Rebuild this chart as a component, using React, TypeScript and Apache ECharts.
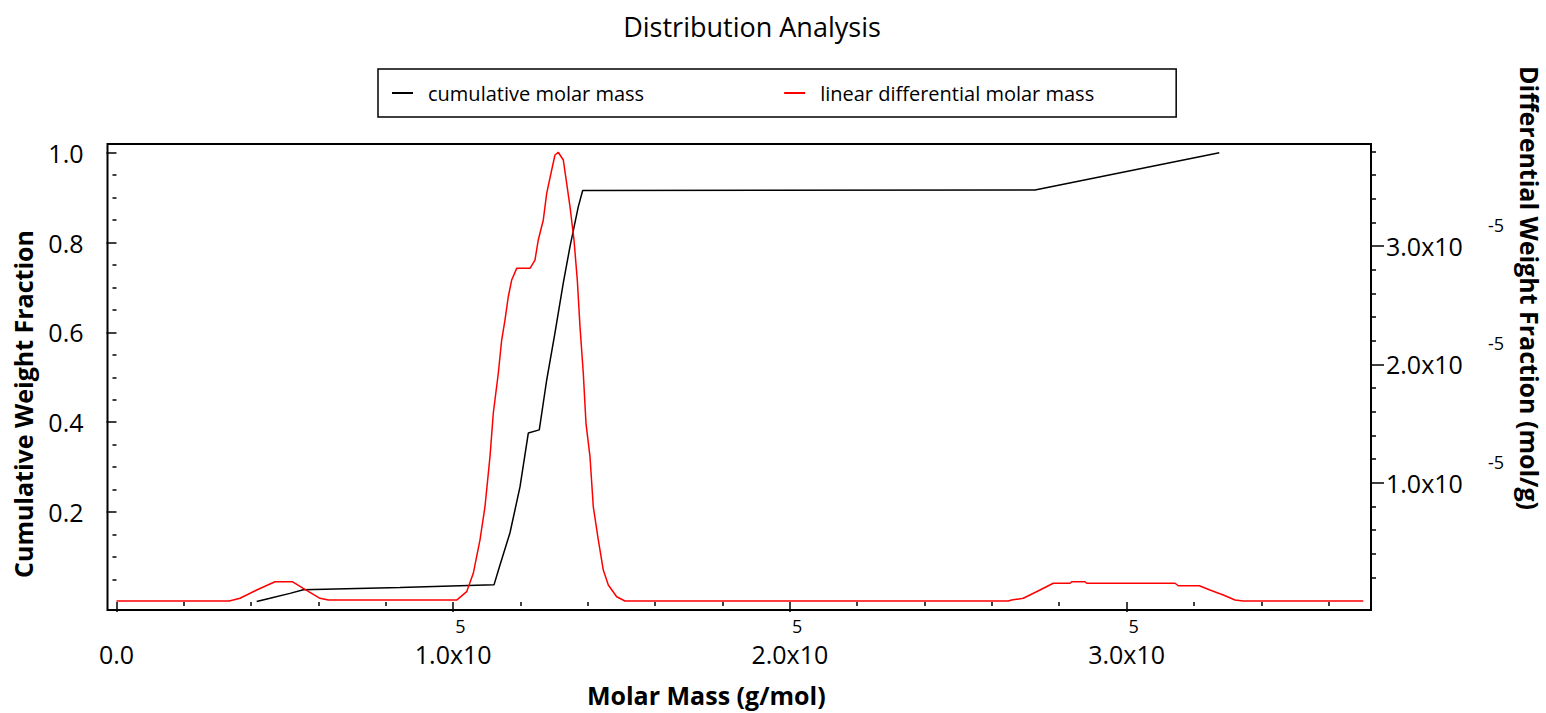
import { useEffect, useRef } from "react";
import * as echarts from "echarts";

// ---- Data ----
// Cumulative molar mass curve (left axis)
const cumMolarMass = [
  41640, 45590, 51530, 55480, 84200, 112120, 113900, 116870, 119840, 122310,
  125570, 127770, 130230, 132700, 134690, 137160, 138460, 272790, 327530,
];
const cumWeightFraction = [
  0.001, 0.008, 0.019, 0.027, 0.032, 0.038, 0.082, 0.154, 0.256, 0.376,
  0.383, 0.494, 0.599, 0.71, 0.791, 0.88, 0.916, 0.917, 1.0,
];

// Linear differential molar mass curve (right axis, mol/g)
const diffMolarMass = [
  0, 33500, 36680, 41640, 47070, 52210, 55480, 60440, 62900, 101040,
  104010, 105970, 107960, 109440, 110930, 111910, 113400, 114400, 115380, 116360,
  117370, 118860, 122810, 124290, 125270, 126760, 127770, 129250, 130230, 131210,
  132700, 133710, 134690, 135880, 136860, 137660, 138640, 139440, 140630, 141610,
  143100, 144580, 146070, 148560, 151030, 264860, 265870, 269320, 274280, 278230,
  283190, 283690, 287640, 288150, 314380, 315360, 321590, 324770, 328720, 332200,
  334660, 370300,
];
const diffWeightFraction = [
  0, 0, 0.023e-5, 0.093e-5, 0.163e-5, 0.163e-5, 0.107e-5, 0.023e-5, 0.008e-5, 0.008e-5,
  0.079e-5, 0.234e-5, 0.516e-5, 0.797e-5, 1.22e-5, 1.587e-5, 1.925e-5, 2.206e-5, 2.375e-5, 2.572e-5,
  2.713e-5, 2.812e-5, 2.812e-5, 2.882e-5, 3.052e-5, 3.221e-5, 3.446e-5, 3.643e-5, 3.77e-5, 3.793e-5,
  3.728e-5, 3.531e-5, 3.333e-5, 3.052e-5, 2.713e-5, 2.319e-5, 1.925e-5, 1.502e-5, 1.22e-5, 0.797e-5,
  0.516e-5, 0.262e-5, 0.135e-5, 0.036e-5, 0, 0, 0.008e-5, 0.023e-5, 0.093e-5, 0.15e-5,
  0.15e-5, 0.163e-5, 0.163e-5, 0.15e-5, 0.15e-5, 0.129e-5, 0.129e-5, 0.093e-5, 0.051e-5, 0.008e-5,
  0, 0,
];

// Tick values
const xMajorTicks = [0, 100000, 200000, 300000];
const xExponentTicks = [100000, 200000, 300000];
const xMinorTicks = [
  20000, 40000, 60000, 80000, 120000, 140000, 160000, 180000, 220000, 240000,
  260000, 280000, 320000, 340000, 360000,
];
const leftMajorTicks = [0.2, 0.4, 0.6, 0.8, 1.0];
const leftMinorTicks = [
  0.05, 0.1, 0.15, 0.25, 0.3, 0.35, 0.45, 0.5, 0.55, 0.65, 0.7, 0.75, 0.85, 0.9, 0.95,
];
const rightMajorTicks = [1e-5, 2e-5, 3e-5];
const rightMinorTicks = [
  0.2e-5, 0.4e-5, 0.6e-5, 0.8e-5, 1.2e-5, 1.4e-5, 1.6e-5, 1.8e-5, 2.2e-5, 2.4e-5,
  2.6e-5, 2.8e-5, 3.2e-5, 3.4e-5, 3.6e-5, 3.8e-5,
];

const X_MIN = -2670;
const X_MAX = 372590;
const L_MIN = -0.018;
const L_MAX = 1.0194;
const R_MIN = -0.076e-5;
const R_MAX = 3.863e-5;
// exponent labels of the right axis sit a little above their ticks
const R_EXP_SHIFT = 0.178e-5;

const FONT = "'Open Sans', 'Noto Sans', sans-serif";
const TICK_FS = 25;
const NAME_FS = 25;

export default function App() {
  const ref = useRef<HTMLDivElement>(null);

  useEffect(() => {
    if (!ref.current) return;
    const chart = echarts.init(ref.current, undefined, { renderer: "svg" });

    const tickLine = { color: "#000", width: 1.5 };
    const nameStyle = (padding: number[]) => ({
      fontFamily: FONT,
      fontSize: NAME_FS,
      fontWeight: "bold",
      color: "#000",
      padding,
    });

    const option: any = {
      animation: false,
      backgroundColor: "#fff",
      textStyle: { fontFamily: FONT, color: "#000" },
      title: {
        text: "Distribution Analysis",
        left: 747,
        textAlign: "center",
        top: 8,
        textStyle: { fontFamily: FONT, fontSize: 27, fontWeight: "normal", color: "#000" },
      },
      legend: {
        left: 378,
        top: 69,
        padding: [14, 82, 14, 14],
        itemGap: 140,
        itemWidth: 21,
        itemHeight: 2,
        icon: "rect",
        borderColor: "#000",
        borderWidth: 1.5,
        borderRadius: 0,
        textStyle: { fontFamily: FONT, fontSize: 20, color: "#000", padding: [0, 0, 0, 10] },
        data: ["cumulative molar mass", "linear differential molar mass"],
      },
      grid: {
        left: 107.5,
        right: 175,
        top: 144,
        bottom: 103,
        containLabel: false,
        outerBoundsMode: "none",
        show: true,
        borderColor: "#000",
        borderWidth: 2,
        backgroundColor: "transparent",
      },
      xAxis: [
        {
          type: "value",
          min: X_MIN,
          max: X_MAX,
          position: "bottom",
          offset: 3,
          axisLine: { show: false },
          splitLine: { show: false },
          axisTick: { show: true, customValues: xMinorTicks, length: 4, lineStyle: tickLine },
          axisLabel: {
            customValues: xMajorTicks,
            formatter: (v: number) => (v === 0 ? "0.0" : (v / 100000).toFixed(1) + "x10"),
            margin: 28,
            fontSize: TICK_FS,
            color: "#000",
            fontFamily: FONT,
          },
          name: "Molar Mass (g/mol)",
          nameLocation: "middle",
          nameGap: 69,
          nameTextStyle: nameStyle([0, 66, 0, 0]),
        },
        {
          type: "value",
          min: X_MIN,
          max: X_MAX,
          position: "bottom",
          offset: 3,
          axisLine: { show: false },
          splitLine: { show: false },
          axisTick: { show: true, customValues: xMajorTicks, length: 10, lineStyle: tickLine },
          axisLabel: {
            customValues: xExponentTicks,
            formatter: () => "5",
            align: "left",
            padding: [0, 0, 0, 2],
            margin: 4,
            fontSize: 18,
            color: "#000",
            fontFamily: FONT,
          },
        },
      ],
      yAxis: [
        {
          type: "value",
          min: L_MIN,
          max: L_MAX,
          position: "left",
          offset: 2,
          axisLine: { show: false },
          splitLine: { show: false },
          axisTick: { show: true, customValues: leftMinorTicks, length: 4, lineStyle: tickLine },
          axisLabel: {
            customValues: leftMajorTicks,
            formatter: (v: number) => v.toFixed(1),
            margin: 22,
            fontSize: TICK_FS,
            color: "#000",
            fontFamily: FONT,
          },
          name: "Cumulative Weight Fraction",
          nameLocation: "middle",
          nameRotate: 90,
          nameGap: 70,
          nameTextStyle: nameStyle([0, 54, 0, 0]),
        },
        {
          type: "value",
          min: L_MIN,
          max: L_MAX,
          position: "left",
          offset: 2,
          axisLine: { show: false },
          splitLine: { show: false },
          axisTick: { show: true, customValues: leftMajorTicks, length: 10, lineStyle: tickLine },
          axisLabel: { show: false },
        },
        {
          type: "value",
          min: R_MIN,
          max: R_MAX,
          position: "right",
          offset: 1,
          axisLine: { show: false },
          splitLine: { show: false },
          axisTick: { show: true, customValues: rightMinorTicks, length: 4, lineStyle: tickLine },
          axisLabel: {
            customValues: rightMajorTicks,
            formatter: (v: number) => (v / 1e-5).toFixed(1) + "x10",
            margin: 14,
            fontSize: TICK_FS,
            color: "#000",
            fontFamily: FONT,
          },
          name: "Differential Weight Fraction (mol/g)",
          nameLocation: "middle",
          nameRotate: -90,
          nameGap: 145,
          nameTextStyle: nameStyle([0, 178, 0, 0]),
        },
        {
          type: "value",
          min: R_MIN,
          max: R_MAX,
          position: "right",
          offset: 1,
          axisLine: { show: false },
          splitLine: { show: false },
          axisTick: { show: true, customValues: rightMajorTicks, length: 12, lineStyle: tickLine },
          axisLabel: { show: false },
        },
        {
          type: "value",
          min: R_MIN - R_EXP_SHIFT,
          max: R_MAX - R_EXP_SHIFT,
          position: "right",
          offset: 1,
          axisLine: { show: false },
          splitLine: { show: false },
          axisTick: { show: false },
          axisLabel: {
            customValues: rightMajorTicks,
            formatter: () => "-5",
            margin: 116,
            fontSize: 18,
            color: "#000",
            fontFamily: FONT,
          },
        },
      ],
      series: [
        {
          name: "cumulative molar mass",
          type: "line",
          xAxisIndex: 0,
          yAxisIndex: 0,
          showSymbol: false,
          symbol: "none",
          color: "#000",
          lineStyle: { color: "#000", width: 1.5 },
          data: cumMolarMass.map((m, i) => [m, cumWeightFraction[i]]),
        },
        {
          name: "linear differential molar mass",
          type: "line",
          xAxisIndex: 0,
          yAxisIndex: 2,
          showSymbol: false,
          symbol: "none",
          color: "#ff0000",
          lineStyle: { color: "#ff0000", width: 1.5 },
          data: diffMolarMass.map((m, i) => [m, diffWeightFraction[i]]),
        },
      ],
    };

    chart.setOption(option);
    return () => chart.dispose();
  }, []);

  return (
    <div
      ref={ref}
      style={{ position: "absolute", left: 0, top: 0, width: 1546, height: 713, background: "#fff" }}
    />
  );
}
